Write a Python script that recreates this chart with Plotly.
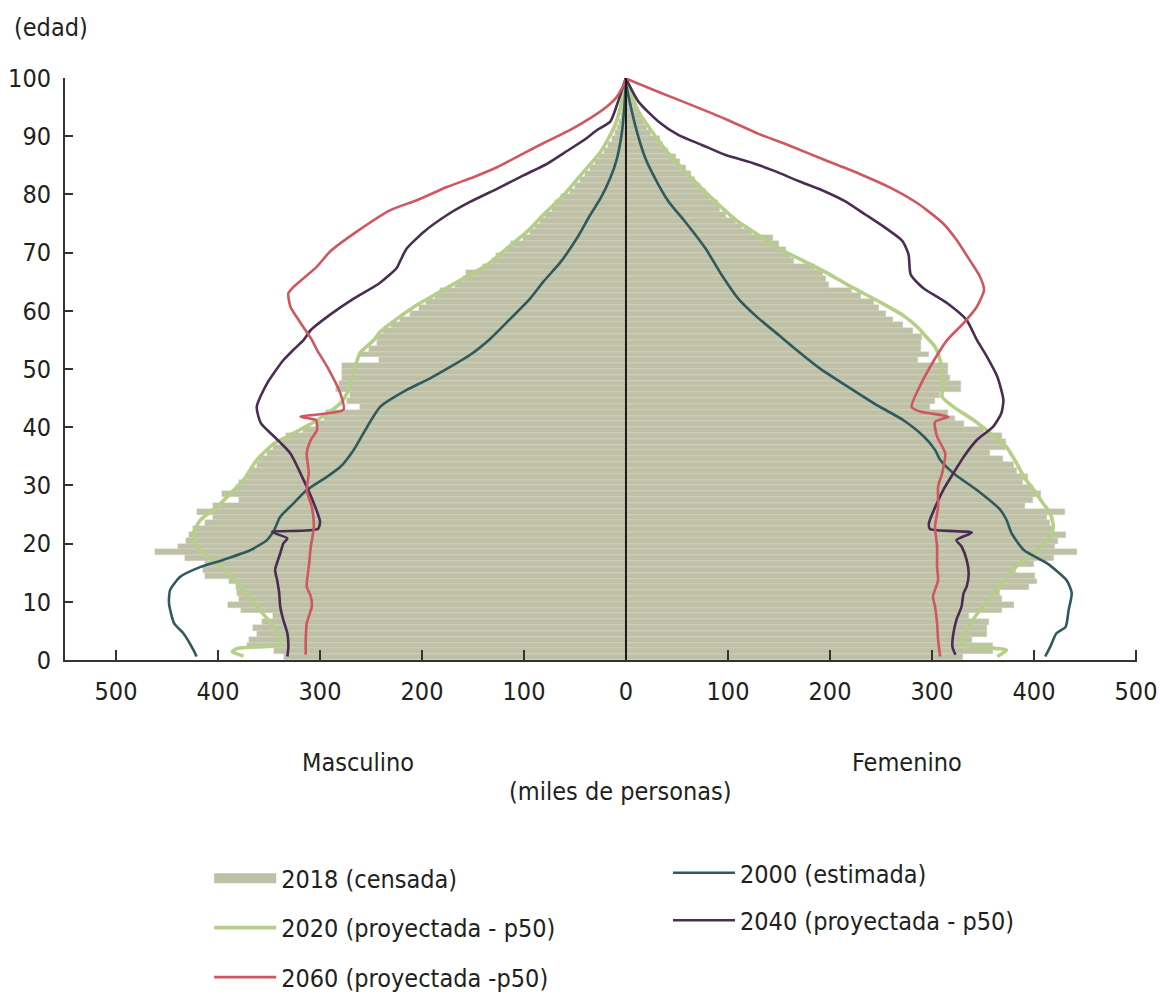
import plotly.graph_objects as go

# ---- 2018 census, single-year ages 0..100 (thousands of people) ----
AGES = list(range(0, 101))

CENSO_2018_MASC = [
    335, 345, 372, 370, 362, 366, 357, 346, 377, 390,
    379, 381, 382, 389, 413, 415, 413, 432, 462, 439,
    431, 428, 425, 413, 405, 421, 405, 379, 396, 382,
    379, 372, 369, 362, 360, 352, 346, 337, 333, 317,
    304, 296, 294, 261, 274, 271, 284, 281, 278, 278,
    278, 242, 261, 252, 244, 244, 238, 230, 222, 212,
    203, 196, 187, 182, 168, 160, 157, 140, 131, 127,
    118, 113, 101, 94, 89, 84, 79, 73, 70, 64,
    55, 50, 45, 40, 35, 30, 26, 22, 18, 14,
    11, 9, 7, 5, 4, 3, 2, 1.5, 1, 0.7,
    0.5,
]

CENSO_2018_FEM = [
    330, 360, 360, 339, 354, 354, 356, 336, 369, 380,
    369, 367, 395, 403, 401, 382, 400, 420, 442, 421,
    424, 431, 419, 416, 413, 430, 391, 399, 407, 399,
    389, 394, 383, 380, 370, 357, 373, 373, 369, 351,
    331, 323, 316, 298, 303, 308, 328, 328, 318, 316,
    316, 286, 297, 289, 289, 290, 281, 272, 262, 255,
    248, 243, 230, 222, 199, 196, 193, 185, 165, 162,
    157, 150, 144, 124, 114, 108, 98, 92, 90, 82,
    78, 73, 68, 64, 59, 53, 49, 41, 36, 33,
    25, 21, 18, 15, 12, 9, 7, 5, 3.5, 2.5,
    2,
]

# ---- 2000 (estimada) ----
E2000_M_AGE = [0.6, 1.7, 4.6, 6.3, 9.7, 12.0, 14.3, 16.0, 17.2, 18.9, 20.6, 22.3, 24.6, 26.9,
               29.2, 31.5, 33.2, 36.1, 40.0, 43.5, 46.4, 48.4, 52.4, 55.2, 58.7, 62.1, 65.0,
               68.4, 72.5, 76.5, 79.3, 82.8, 86.2, 90.8, 94.8, 98.8, 100]
E2000_M_VAL = [421, 424, 434, 443, 448, 447, 437, 417, 395, 368, 352, 345, 339, 326,
               313, 293, 280, 267, 254, 241, 215, 192, 153, 133, 113, 94, 81,
               64, 48, 35, 25, 15.4, 8.8, 3.9, 1.7, 0.3, 0]
E2000_F_AGE = [0.6, 2.3, 4.6, 5.7, 8.6, 11.5, 13.7, 16.6, 18.9, 21.8, 24.1, 25.8, 29.2, 32.1,
               34.4, 36.1, 38.4, 41.2, 44.1, 47.0, 50.1, 53.0, 55.8, 58.7, 62.1, 66.1, 70.7,
               75.3, 78.7, 81.6, 86.2, 91.9, 98.8, 100]
E2000_F_VAL = [411, 416, 422, 431, 434, 437, 432, 413, 390, 378, 373, 367, 344, 321,
               308, 303, 292, 272, 243, 217, 190, 169, 150, 130, 110, 94, 78,
               58, 42, 32, 19, 9, 0.3, 0]

# ---- 2020 (proyectada - p50) ----
P2020_M_AGE = [0.7, 1.4, 2.0, 2.6, 3.4, 5.7, 9.2, 13.2, 16.6, 19.5, 21.8, 24.1, 26.3, 28.6,
               30.9, 34.4, 37.2, 38.4, 41.2, 44.1, 46.4, 49.3, 52.7, 55.0, 56.4, 58.7, 61.0,
               63.3, 65.6, 67.9, 70.7, 73.6, 76.5, 79.9, 83.9, 87.3, 91.4, 94.8, 99.4, 100]
P2020_M_VAL = [375, 386, 381, 339, 337, 345, 362, 381, 401, 421, 424, 417, 401, 388,
               375, 362, 345, 332, 303, 280, 272, 267, 261, 247, 241, 224, 205,
               182, 159, 136, 117, 97, 81, 61, 41.5, 25, 12, 5.6, 0.7, 0]
P2020_F_AGE = [0.6, 1.7, 2.6, 3.4, 5.2, 8.6, 11.4, 14.3, 16.6, 18.9, 21.2, 22.9, 25.2, 26.9,
               29.2, 31.5, 33.8, 36.6, 39.0, 41.2, 43.5, 45.2, 47.5, 51.5, 53.8, 55.8, 57.0,
               59.3, 61.6, 64.1, 66.7, 69.0, 70.7, 73.0, 75.3, 78.2, 81.6, 85.0, 87.6, 90.8,
               94.2, 99.6]
P2020_F_VAL = [364, 373, 331, 329, 334, 347, 360, 373, 386, 403, 416, 419, 416, 409,
               400, 390, 383, 373, 357, 341, 321, 310, 311, 308, 303, 293, 287,
               271, 248, 221, 195, 169, 150, 130, 110, 91, 71, 52, 39, 25.5,
               12.4, 0]

# ---- 2040 (proyectada - p50) ----
P2040_M_AGE = [0.6, 2.3, 4.6, 6.9, 9.2, 11.5, 13.7, 15.5, 18.3, 20.0, 20.9, 22.0, 22.5, 23.8,
               26.9, 30.9, 35.5, 38.4, 40.7, 43.5, 47.5, 51.5, 53.3, 55.0, 56.7, 59.6, 62.1,
               64.7, 67.3, 68.7, 70.7, 73.6, 76.5, 78.7, 81.0, 83.3, 85.3, 87.1, 89.3, 91.1,
               92.5, 95.4, 98.8, 100]
P2040_M_VAL = [332, 331, 332, 336, 339, 340, 342, 344, 339, 336, 332, 347, 302, 300,
               306, 316, 329, 345, 358, 362, 352, 336, 326, 316, 309, 288, 267,
               242, 225, 221, 215, 198, 175, 153, 126, 100, 77, 61, 41.5, 28,
               15.4, 8.8, 2.4, 0]
P2040_F_AGE = [0.9, 2.3, 4.6, 6.9, 9.2, 11.5, 12.6, 14.9, 17.2, 19.5, 20.6, 21.9, 22.5, 23.5,
               25.8, 29.2, 32.1, 34.9, 37.8, 40.1, 42.4, 44.7, 48.7, 52.1, 55.0, 58.4, 61.3,
               63.7, 64.6, 66.3, 69.7, 72.0, 74.3, 76.5, 78.8, 80.5, 82.3, 84.0, 85.4, 86.8,
               88.5, 90.2, 92.5, 95.9, 99.9]
P2040_F_VAL = [323, 320, 321, 324, 329, 331, 334, 336, 334, 329, 324, 339, 298, 297,
               302, 311, 321, 331, 344, 360, 368, 370, 364, 354, 344, 334, 315,
               293, 287, 279, 277, 271, 254, 235, 215, 195, 169, 146, 124, 97,
               74.5, 51.6, 32, 12.4, 0]

# ---- 2060 (proyectada -p50) ----
P2060_M_AGE = [0.9, 3.4, 6.3, 9.2, 10.9, 12.6, 16.0, 19.5, 22.9, 26.3, 29.2, 32.1, 35.5, 37.8,
               39.5, 41.2, 41.8, 43.0, 45.8, 50.4, 53.3, 55.0, 57.9, 60.7, 63.0, 64.1, 67.6,
               70.2, 73.6, 77.3, 79.0, 81.3, 83.0, 84.7, 87.1, 89.1, 91.1, 93.1, 95.1, 96.8,
               99.4, 100]
P2060_M_VAL = [314, 314, 313, 308, 309, 313, 311, 309, 306, 308, 313, 311, 313, 309,
               303, 304, 319, 277, 280, 293, 303, 308, 319, 329, 331, 326, 303,
               290, 264, 231, 205, 175, 149, 126, 100, 77.5, 54.6, 35, 18.6, 8.8,
               0.7, 0]
P2060_F_AGE = [0.6, 3.4, 6.3, 9.2, 10.9, 13.7, 16.0, 19.5, 22.9, 26.3, 29.8, 32.1, 35.5, 38.4,
               40.9, 41.8, 42.7, 43.5, 47.0, 51.5, 55.0, 57.9, 60.7, 63.6, 65.9, 68.7, 72.2,
               75.0, 77.3, 78.7, 81.0, 83.6, 85.9, 88.2, 90.4, 93.0, 95.3, 97.6, 99.9]
P2060_F_VAL = [308, 306, 305, 303, 301, 306, 305, 305, 303, 306, 306, 310, 313, 305,
               303, 316, 288, 280, 288, 302, 315, 331, 344, 351, 347, 337, 324,
               311, 295, 284, 261, 228, 195, 163, 130, 97, 65, 32, 0]

X_TICKS = [-500, -400, -300, -200, -100, 0, 100, 200, 300, 400, 500]
Y_TICKS = [0, 10, 20, 30, 40, 50, 60, 70, 80, 90, 100]

FONT = "DejaVu Sans Condensed, Liberation Sans Narrow, Arial Narrow, sans-serif"
FS = 25
TXT = "#231f20"
AX = "#333333"

C_BAR = "#bfc1a6"
C_2000 = "#2f5a5e"
C_2020 = "#b6cf88"
C_2040 = "#4a2d53"
C_2060 = "#d0565f"


def both_sides(m_age, m_val, f_age, f_val):
    """Male values go to the left (negative x), female to the right."""
    xs = [-v for v in m_val] + [None] + list(f_val)
    ys = list(m_age) + [None] + list(f_age)
    return xs, ys


fig = go.Figure()

# census bars (male left, female right)
bar_style = dict(color=C_BAR, line=dict(width=0.4, color="#d4d6c2"))
fig.add_trace(go.Bar(
    y=AGES, x=[-v for v in CENSO_2018_MASC], orientation="h",
    width=1, offset=0, marker=bar_style, showlegend=False, legendgroup="a",
))
fig.add_trace(go.Bar(
    y=AGES, x=CENSO_2018_FEM, orientation="h",
    width=1, offset=0, marker=bar_style, showlegend=False, legendgroup="a",
))
# wide legend key for the census bars
fig.add_trace(go.Scatter(
    x=[None], y=[None], mode="lines", name="2018 (censada)",
    line=dict(color=C_BAR, width=20), legend="legend", legendrank=1, legendgroup="a",
))

series = [
    ("2020 (proyectada - p50)", P2020_M_AGE, P2020_M_VAL, P2020_F_AGE, P2020_F_VAL, C_2020, 3.6, "legend", 2),
    ("2000 (estimada)", E2000_M_AGE, E2000_M_VAL, E2000_F_AGE, E2000_F_VAL, C_2000, 2.6, "legend2", 1),
    ("2040 (proyectada - p50)", P2040_M_AGE, P2040_M_VAL, P2040_F_AGE, P2040_F_VAL, C_2040, 2.6, "legend2", 2),
    ("2060 (proyectada -p50)", P2060_M_AGE, P2060_M_VAL, P2060_F_AGE, P2060_F_VAL, C_2060, 2.6, "legend", 3),
]
for i, (name, ma, mv, fa, fv, col, w, leg, rank) in enumerate(series):
    xs, ys = both_sides(ma, mv, fa, fv)
    fig.add_trace(go.Scatter(
        x=xs, y=ys, mode="lines", name=name,
        line=dict(color=col, width=w, shape="spline", smoothing=0.6),
        legend=leg, legendrank=rank, legendgroup="g%d" % i,
    ))

# vertical centre line
fig.add_shape(type="line", xref="x", yref="y", x0=0, x1=0, y0=0, y1=100,
              line=dict(color="#1a1a1a", width=2), layer="above")

fig.update_layout(
    width=1160, height=1000,
    margin=dict(l=65, r=23, t=78, b=340, autoexpand=False),
    plot_bgcolor="white", paper_bgcolor="white",
    barmode="overlay", bargap=0,
    font=dict(family=FONT, size=FS, color=TXT),
    legend=dict(x=0.1345, y=-0.3357, xanchor="left", yanchor="top",
                font=dict(size=FS, color=TXT), tracegroupgap=14, itemwidth=62,
                bgcolor="rgba(0,0,0,0)"),
    legend2=dict(x=0.5625, y=-0.3265, xanchor="left", yanchor="top",
                 font=dict(size=FS, color=TXT), tracegroupgap=12, itemwidth=62,
                 bgcolor="rgba(0,0,0,0)"),
    xaxis=dict(range=[-550, 501], tickvals=X_TICKS, ticktext=[str(abs(v)) for v in X_TICKS],
               showgrid=False, zeroline=False, showline=True, linecolor=AX, linewidth=2,
               ticks="inside", ticklen=10, tickwidth=2, tickcolor=AX,
               ticklabelstandoff=8, tickfont=dict(size=FS, color=TXT)),
    yaxis=dict(range=[0, 100], tickvals=Y_TICKS, showgrid=False, zeroline=False,
               showline=True, linecolor=AX, linewidth=2,
               ticks="inside", ticklen=8, tickwidth=2, tickcolor=AX,
               ticklabelstandoff=7, tickfont=dict(size=FS, color=TXT)),
    annotations=[
        dict(text="(edad)", xref="paper", yref="paper", x=-0.0495, y=1.0876,
             xanchor="left", yanchor="middle", showarrow=False, font=dict(size=FS, color=TXT)),
        dict(text="Masculino", xref="paper", yref="paper", x=0.2736, y=-0.1753,
             xanchor="center", yanchor="middle", showarrow=False, font=dict(size=FS, color=TXT)),
        dict(text="Femenino", xref="paper", yref="paper", x=0.7852, y=-0.1753,
             xanchor="center", yanchor="middle", showarrow=False, font=dict(size=FS, color=TXT)),
        dict(text="(miles de personas)", xref="paper", yref="paper", x=0.5182, y=-0.2268,
             xanchor="center", yanchor="middle", showarrow=False, font=dict(size=FS, color=TXT)),
    ],
)

fig.write_html("out.html")
